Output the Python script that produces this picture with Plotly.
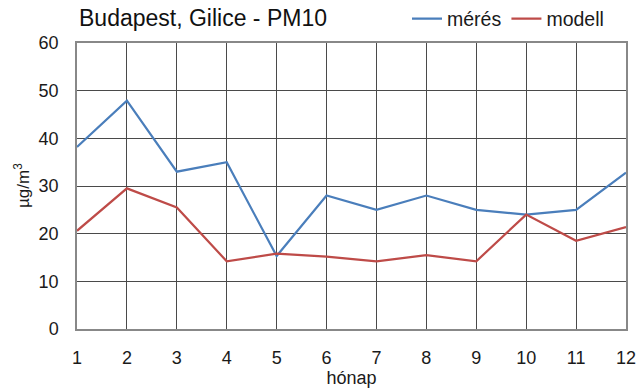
import plotly.graph_objects as go

months = list(range(1, 13))
meres = [38.2, 47.9, 33.0, 35.0, 15.3, 28.0, 25.0, 28.0, 25.0, 24.0, 25.0, 32.8]
modell = [20.6, 29.5, 25.5, 14.2, 15.8, 15.2, 14.2, 15.5, 14.2, 24.0, 18.5, 21.4]
y_ticks = [0, 10, 20, 30, 40, 50, 60]

font = "Liberation Sans, Arial, sans-serif"

fig = go.Figure()
fig.add_trace(go.Scatter(x=months, y=meres, mode="lines", name="mérés",
                         line=dict(color="#4a7ebb", width=2.2)))
fig.add_trace(go.Scatter(x=months, y=modell, mode="lines", name="modell",
                         line=dict(color="#be4b48", width=2.2)))

fig.update_layout(
    width=640, height=388,
    margin=dict(l=77, r=14, t=43, b=59, autoexpand=False),
    paper_bgcolor="white", plot_bgcolor="white",
    font=dict(family=font, size=18, color="#1a1a1a"),
    title=dict(text="Budapest, Gilice - PM10", x=79/640, xanchor="left", xref="container",
               y=1-18/388, yanchor="middle", yref="container",
               font=dict(size=23, color="#111"), automargin=False),
    legend=dict(orientation="h", x=609/640, xanchor="right", xref="container",
                y=1-19/388, yanchor="middle", yref="container",
                font=dict(size=19.5), itemwidth=30,
                bgcolor="rgba(0,0,0,0)", tracegroupgap=0),
    showlegend=True,
    annotations=[dict(text="µg/m<sup>3</sup>", textangle=-90, showarrow=False,
                      xref="paper", yref="paper", x=(22-77)/549, y=0.5,
                      xanchor="center", yanchor="middle", font=dict(size=17))],
)
fig.update_xaxes(range=[1, 12], tickvals=months, ticktext=[str(m) for m in months],
                 showgrid=True, gridcolor="#4a4a4a", gridwidth=1,
                 showline=True, linecolor="#888", linewidth=1.5, mirror=True,
                 ticks="", ticklabelstandoff=12, automargin=False,
                 title=dict(text="hónap", standoff=4, font=dict(size=18)),
                 zeroline=False)
fig.update_yaxes(range=[0, 60], tickvals=y_ticks,
                 showgrid=True, gridcolor="#4a4a4a", gridwidth=1,
                 showline=True, linecolor="#888", linewidth=1.5, mirror=True,
                 ticks="", ticklabelstandoff=13, automargin=False,
                 zeroline=False)

fig.write_html("out.html", config={"displayModeBar": False},
               post_script="document.body.style.margin='0';")
